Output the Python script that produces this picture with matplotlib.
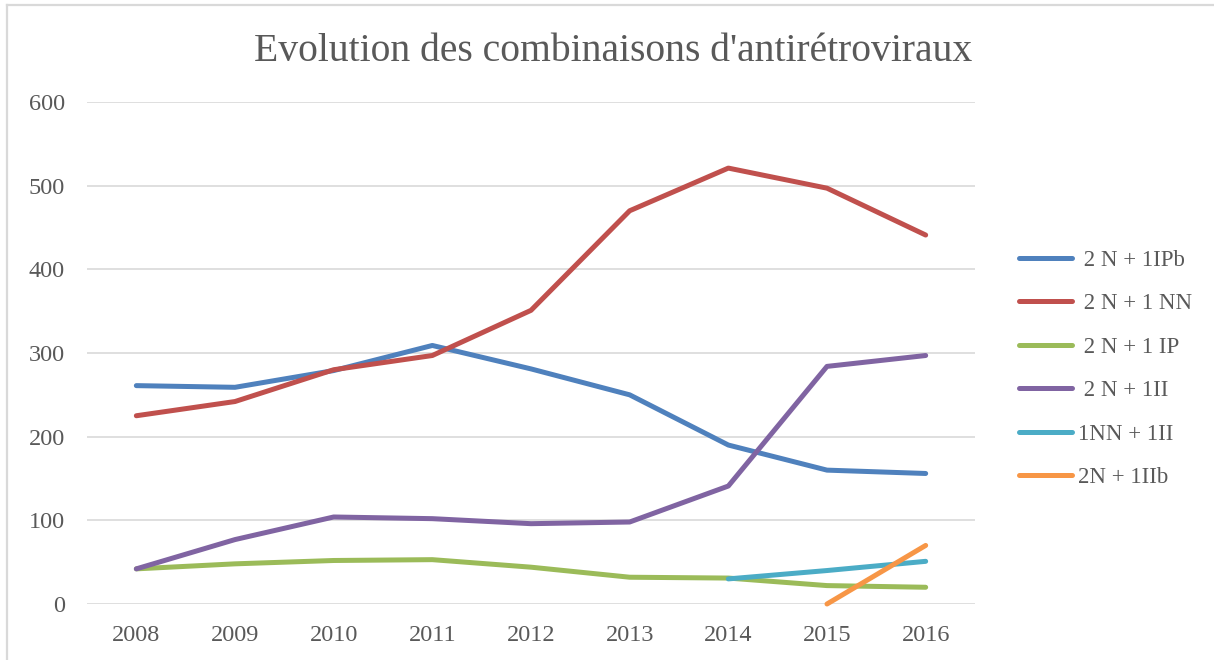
import matplotlib
matplotlib.use("Agg")
from matplotlib import pyplot as plt
from matplotlib.lines import Line2D

years = ["2008", "2009", "2010", "2011", "2012", "2013", "2014", "2015", "2016"]
ipb = [261, 259, 279, 309, 281, 250, 190, 160, 156]
nn = [225, 242, 280, 297, 351, 470, 521, 497, 441]
ip = [42, 48, 52, 53, 44, 32, 31, 22, 20]
ii = [42, 77, 104, 102, 96, 98, 141, 284, 297]
nn_ii = [None, None, None, None, None, None, 30, 40, 51]
iib = [None, None, None, None, None, None, None, 0, 70]

labels = [" 2 N + 1IPb", " 2 N + 1 NN", " 2 N + 1 IP", " 2 N + 1II", "1NN + 1II", "2N + 1IIb"]
colors = ["#4F81BD", "#C0504D", "#9BBB59", "#8064A2", "#4BACC6", "#F79646"]
series = [ipb, nn, ip, ii, nn_ii, iib]

plt.rcParams['font.family'] = ['Liberation Serif', 'DejaVu Serif']
txt = "#595959"

fig = plt.figure(figsize=(12.14, 6.6), dpi=100)
ax = fig.add_axes([87/1214, 56/660, 888/1214, 502/660])

x = list(range(len(years)))
for s, lab, c in zip(series, labels, colors):
    xs = [i for i, v in zip(x, s) if v is not None]
    ys = [v for v in s if v is not None]
    ax.plot(xs, ys, color=c, lw=3.6, label=lab, solid_capstyle='round',
            solid_joinstyle='round', clip_on=False)

ax.set_xlim(-0.5, 8.5)
ax.set_ylim(0, 600)
ax.set_yticks([0, 100, 200, 300, 400, 500, 600])
ax.set_xticks(x)
ax.set_xticklabels(years)
ax.grid(axis='y', color='#D9D9D9', lw=1.2)
ax.set_axisbelow(True)
for sp in ax.spines.values():
    sp.set_visible(False)
ax.tick_params(axis='y', length=0, pad=16, labelsize=17.5, labelcolor=txt)
ax.tick_params(axis='x', length=0, pad=15, labelsize=17.5, labelcolor=txt)

fig.text(0.505, 0.922, "Evolution des combinaisons d'antirétroviraux", ha='center', va='center',
         fontsize=28.5, color=txt)

fig.legend(loc='center left', bbox_to_anchor=(1008/1214, 0.441), frameon=False, fontsize=16.5,
           handlelength=2.3, handletextpad=0.25, labelspacing=0.98, borderpad=0, labelcolor=txt)

fig.add_artist(Line2D([7/1214, 1], [1 - 5/660, 1 - 5/660], color='#D9D9D9', lw=1.6))
fig.add_artist(Line2D([7/1214, 7/1214], [0, 1 - 5/660], color='#D9D9D9', lw=1.6))

fig.savefig("out.png", dpi=100)
